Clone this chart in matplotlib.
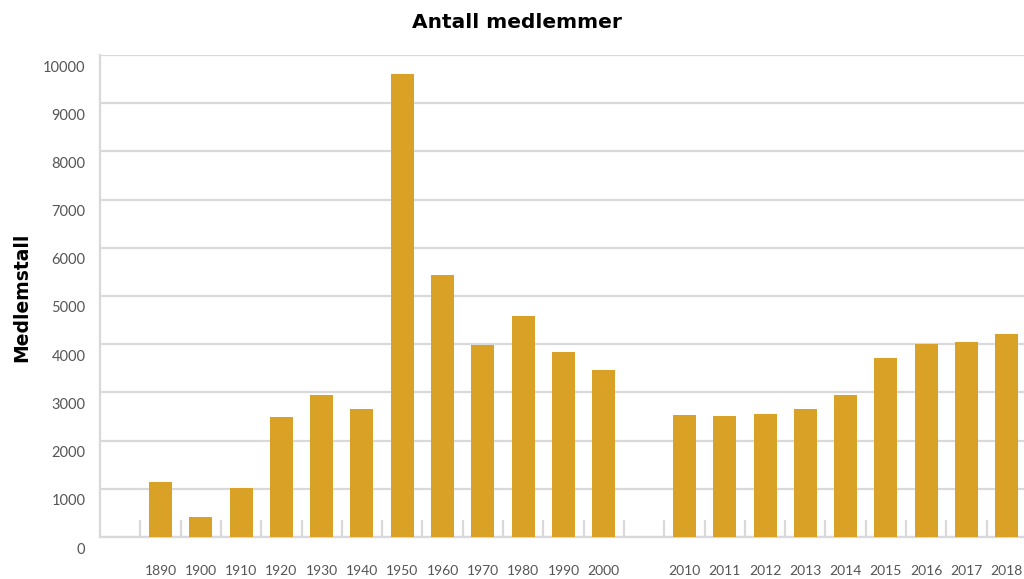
import matplotlib
matplotlib.use("Agg")
import matplotlib.pyplot as plt
from matplotlib.transforms import ScaledTranslation
import numpy as np

# Data
categories = ["", "1890", "1900", "1910", "1920", "1930", "1940", "1950", "1960",
              "1970", "1980", "1990", "2000", "", "2010", "2011", "2012", "2013",
              "2014", "2015", "2016", "2017", "2018"]
values = [np.nan, 1140, 410, 1010, 2490, 2940, 2650, 9600, 5430,
          3980, 4580, 3835, 3460, np.nan, 2525, 2505, 2545, 2650,
          2940, 3710, 4000, 4040, 4210]
yticks = [0, 1000, 2000, 3000, 4000, 5000, 6000, 7000, 8000, 9000, 10000]

title = "Antall medlemmer"
ylabel = "Medlemstall"

bar_color = "#D9A227"
grid_color = "#D9D9D9"
text_color = "#555555"

W, H = 1024, 579
fig = plt.figure(figsize=(W / 100, H / 100), dpi=100)
left, right, top, bottom = 100, 1027, 55, 537
ax = fig.add_axes([left / W, (H - bottom) / H, (right - left) / W, (bottom - top) / H])

x = np.arange(len(categories))
ax.bar(x, values, width=0.57, color=bar_color, zorder=3)

ax.set_xlim(-0.5, len(categories) - 0.5)
ax.set_ylim(0, 10000)

# grid
ax.set_yticks(yticks)
ax.yaxis.grid(True, color=grid_color, linewidth=1.6, zorder=0)
ax.set_axisbelow(True)

# spines
for s in ["top", "right"]:
    ax.spines[s].set_visible(False)
ax.spines["left"].set_color(grid_color)
ax.spines["left"].set_linewidth(1.6)
ax.spines["bottom"].set_color(grid_color)
ax.spines["bottom"].set_linewidth(1.6)

# x ticks: labels at centres, tick marks at boundaries
ax.set_xticks(x)
ax.set_xticklabels(categories, fontsize=10, color=text_color, family=["Lato", "DejaVu Sans"])
ax.tick_params(axis="x", which="major", length=0, pad=20.5)
ax.set_xticks(x[:-1] + 0.5, minor=True)
ax.tick_params(axis="x", which="minor", length=12, width=1.6, color=grid_color, direction="in")

# y ticks
ax.set_yticklabels([str(v) for v in yticks], fontsize=10.5, color=text_color,
                   family=["Lato", "DejaVu Sans"])
ax.tick_params(axis="y", length=0, pad=10.5)
off = ScaledTranslation(0, -11 / 100, fig.dpi_scale_trans)
for lab in ax.get_yticklabels():
    lab.set_transform(lab.get_transform() + off)

fig.text(517 / W, 1 - 22 / H, title, ha="center", va="center",
         fontsize=14.5, fontweight="bold", color="black")
fig.text(22 / W, 1 - 297 / H, ylabel, ha="center", va="center", rotation=90,
         fontsize=13.5, fontweight="bold", color="black")

fig.savefig("out.png", dpi=100)
